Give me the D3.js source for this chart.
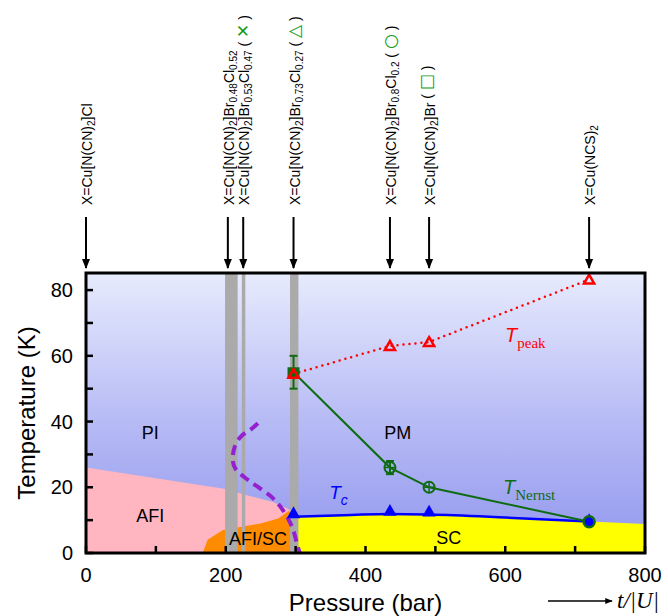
<!DOCTYPE html>
<html><head><meta charset="utf-8">
<script src="https://cdn.jsdelivr.net/npm/d3@7"></script>
<style>body{margin:0;background:#fff}svg{display:block}</style>
</head><body>
<svg id="c" width="668" height="616"></svg>
<script>
// ---------- data ----------
const xTicks = [0, 200, 400, 600, 800];
const xMinor = [0, 100, 200, 300, 400, 500, 600, 700, 800];
const yTicks = [0, 20, 40, 60, 80];
const yMinor = [0, 10, 20, 30, 40, 50, 60, 70, 80];

const compoundP = [0, 203, 225, 297, 435, 491, 720];
const compoundLabel = [
  [["X=Cu[N(CN)",0],["2",1],["]Cl",0]],
  [["X=Cu[N(CN)",0],["2",1],["]Br",0],["0.48",1],["Cl",0],["0.52",1]],
  [["X=Cu[N(CN)",0],["2",1],["]Br",0],["0.53",1],["Cl",0],["0.47",1]],
  [["X=Cu[N(CN)",0],["2",1],["]Br",0],["0.73",1],["Cl",0],["0.27",1]],
  [["X=Cu[N(CN)",0],["2",1],["]Br",0],["0.8",1],["Cl",0],["0.2",1]],
  [["X=Cu[N(CN)",0],["2",1],["]Br",0]],
  [["X=Cu(NCS)",0],["2",1]]
];
const compoundSymbol = ["", "", "✕", "△", "○", "□", ""];

const peakP = [297, 435, 491, 720];
const peakT = [54.5, 63, 64.2, 83.2];

const nernstP = [297, 435, 491, 720];
const nernstT = [55, 26, 20, 9.5];
const nernstErr = [5, 2, 0, 0];

const tcP = [297, 435, 491, 720];
const tcT = [11.8, 12.5, 12.3, 10.8];
const tcLineP = [297, 380, 435, 491, 600, 720];
const tcLineT = [11.0, 11.6, 11.9, 11.7, 10.8, 9.6];

const bandRanges = [[199, 217], [223, 228], [292, 304]];

const afiBoundary = [[0, 0], [0, 26], [200, 19.5], [230, 17.6], [268, 15.5], [289, 13.5], [300, 11.5], [300, 0]];
const afiscBoundary = [[167, 0], [174, 4], [196, 7], [250, 9], [275, 10.5], [290, 12.8], [298, 11.5], [298, 0]];
const scBoundary = [[298, 0], [298, 11.0], [380, 11.6], [435, 11.9], [491, 11.7], [600, 10.8], [720, 9.6], [800, 8.8], [800, 0]];

const dashP = [246, 236, 222, 213, 210, 214, 226, 244, 266, 282, 295, 303, 306];
const dashT = [39.5, 37.6, 35.5, 32.4, 28.3, 25.6, 23.2, 20.4, 17.0, 13.0, 7.9, 2.0, 0];

const regionLabels = [["PI", 92, 36.7], ["AFI", 92, 11.5], ["AFI/SC", 246, 4.2], ["PM", 446, 36.7], ["SC", 519, 4.7]];

// ---------- layout ----------
const svg = d3.select("#c");
const L = 86, R = 645, T = 273, B = 553;
const x = d3.scaleLinear().domain([0, 800]).range([L, R]);
const y = d3.scaleLinear().domain([0, 85.2]).range([B, T]);
const FONT = "'Liberation Sans', Arial, Helvetica, sans-serif";

const defs = svg.append("defs");
const grad = defs.append("linearGradient").attr("id", "bg").attr("x1", 0).attr("x2", 0).attr("y1", 0).attr("y2", 1);
grad.append("stop").attr("offset", "0%").attr("stop-color", "#e7ebfd");
grad.append("stop").attr("offset", "50%").attr("stop-color", "#b9bdf5");
grad.append("stop").attr("offset", "100%").attr("stop-color", "#9297ee");
defs.append("clipPath").attr("id", "clip").append("rect").attr("x", L).attr("y", T).attr("width", R - L).attr("height", B - T);
const mk = defs.append("marker").attr("id", "ah").attr("viewBox", "0 0 10 10").attr("refX", 9).attr("refY", 5)
  .attr("markerWidth", 5).attr("markerHeight", 5).attr("orient", "auto");
mk.append("path").attr("d", "M0,1 L10,5 L0,9 Z").attr("fill", "#000");

const plot = svg.append("g").attr("clip-path", "url(#clip)");
plot.append("rect").attr("x", L).attr("y", T).attr("width", R - L).attr("height", B - T).attr("fill", "url(#bg)");

const area = d3.line().x(d => x(d[0])).y(d => y(d[1]));
plot.append("path").attr("d", area(afiBoundary) + "Z").attr("fill", "#ffb6c1");
plot.append("path").attr("d", area(afiscBoundary) + "Z").attr("fill", "#ff8c00");
plot.append("path").attr("d", d3.line().x(d => x(d[0])).y(d => y(d[1])).curve(d3.curveMonotoneX)(scBoundary.slice(1, -1)) +
  "L" + x(800) + "," + y(0) + "L" + x(298) + "," + y(0) + "Z").attr("fill", "#ffff00");

// grey bands
plot.selectAll("rect.band").data(bandRanges).join("rect").attr("class", "band")
  .attr("x", d => x(d[0])).attr("width", d => x(d[1]) - x(d[0]))
  .attr("y", T).attr("height", B - T).attr("fill", "#aaaaaa");

// region labels
svg.selectAll("text.reg").data(regionLabels).join("text").attr("class", "reg")
  .attr("x", d => x(d[1])).attr("y", d => y(d[2])).attr("dy", "0.35em")
  .attr("text-anchor", "middle").attr("font-family", FONT).attr("font-size", 18).text(d => d[0]);

// purple dashed curve
plot.append("path").datum(dashP.map((p, i) => [p, dashT[i]]))
  .attr("d", d3.line().x(d => x(d[0])).y(d => y(d[1])).curve(d3.curveCatmullRom))
  .attr("fill", "none").attr("stroke", "#9420d0").attr("stroke-width", 4).attr("stroke-dasharray", "10,6");

// Tc line
plot.append("path").datum(tcLineP.map((p, i) => [p, tcLineT[i]]))
  .attr("d", d3.line().x(d => x(d[0])).y(d => y(d[1])).curve(d3.curveMonotoneX))
  .attr("fill", "none").attr("stroke", "#0000ff").attr("stroke-width", 2.5);

// Tpeak dotted line
plot.append("path").datum(peakP.map((p, i) => [p, peakT[i]]))
  .attr("d", d3.line().x(d => x(d[0])).y(d => y(d[1])))
  .attr("fill", "none").attr("stroke", "#ff0000").attr("stroke-width", 2.5)
  .attr("stroke-dasharray", "0,6").attr("stroke-linecap", "round");

// Nernst line
const GREEN = "#0f6b12";
plot.append("path").datum(nernstP.map((p, i) => [p, nernstT[i]]))
  .attr("d", d3.line().x(d => x(d[0])).y(d => y(d[1])))
  .attr("fill", "none").attr("stroke", GREEN).attr("stroke-width", 2);

// error bars
nernstP.forEach((p, i) => {
  if (!nernstErr[i]) return;
  const g = svg.append("g").attr("stroke", GREEN).attr("stroke-width", 2);
  g.append("line").attr("x1", x(p)).attr("x2", x(p)).attr("y1", y(nernstT[i] - nernstErr[i])).attr("y2", y(nernstT[i] + nernstErr[i]));
  [nernstT[i] - nernstErr[i], nernstT[i] + nernstErr[i]].forEach(v =>
    g.append("line").attr("x1", x(p) - 4).attr("x2", x(p) + 4).attr("y1", y(v)).attr("y2", y(v)));
});

// Tc triangles
const tri = d3.symbol().type(d3.symbolTriangle).size(80);
svg.selectAll("path.tc").data(tcP.map((p, i) => [p, tcT[i]])).join("path").attr("class", "tc")
  .attr("transform", (d, i) => `translate(${x(d[0])},${y(d[1])}) scale(${i === 3 ? 0.55 : 1})`)
  .attr("d", tri).attr("fill", "#0000ff");

// Nernst markers
nernstP.forEach((p, i) => {
  const cx = x(p), cy = y(nernstT[i]);
  if (i === 0) {
    svg.append("rect").attr("x", cx - 6).attr("y", cy - 5).attr("width", 12).attr("height", 10).attr("fill", GREEN);
  } else if (i === 3) {
    svg.append("circle").attr("cx", cx).attr("cy", cy).attr("r", 5.5).attr("fill", "#0000ff").attr("stroke", GREEN).attr("stroke-width", 2.5);
  } else {
    svg.append("circle").attr("cx", cx).attr("cy", cy).attr("r", 5.5).attr("fill", "none").attr("stroke", GREEN).attr("stroke-width", 2);
    svg.append("path").attr("d", `M${cx - 5},${cy}H${cx + 5}M${cx},${cy - 5}V${cy + 5}`).attr("stroke", GREEN).attr("stroke-width", 1.5);
  }
});

// Tpeak triangles (open)
svg.selectAll("path.pk").data(peakP.map((p, i) => [p, peakT[i]])).join("path").attr("class", "pk")
  .attr("transform", d => `translate(${x(d[0])},${y(d[1]) + 1})`)
  .attr("d", d3.symbol().type(d3.symbolTriangle).size(45)).attr("fill", "none")
  .attr("stroke", "#ff0000").attr("stroke-width", 2.5);

// curve labels
function sublabel(px, py, main, sub, color, subFont, mainSize, subSize) {
  const t = svg.append("text").attr("x", px).attr("y", py).attr("fill", color);
  t.append("tspan").attr("font-family", FONT).attr("font-style", "italic").attr("font-size", mainSize).text(main);
  t.append("tspan").attr("font-family", subFont).attr("font-style", subFont === FONT ? "italic" : "normal")
    .attr("font-size", subSize).attr("dy", 6).text(sub);
}
sublabel(x(348), y(16.5), "T", "c", "#0000ff", FONT, 19, 14);
sublabel(505, 342, "T", "peak", "#ff0000", "'Liberation Serif', 'Times New Roman', serif", 20, 15);
sublabel(503, 494, "T", "Nernst", GREEN, "'Liberation Serif', 'Times New Roman', serif", 20, 15);

// frame
svg.append("rect").attr("x", L).attr("y", T).attr("width", R - L).attr("height", B - T)
  .attr("fill", "none").attr("stroke", "#000").attr("stroke-width", 3);

// ticks (inward)
svg.selectAll("line.xt").data(xMinor).join("line").attr("class", "xt")
  .attr("x1", d => x(d)).attr("x2", d => x(d)).attr("y1", B).attr("y2", B - 7)
  .attr("stroke", "#000").attr("stroke-width", 2.5);
svg.selectAll("line.yt").data(yMinor).join("line").attr("class", "yt")
  .attr("x1", L).attr("x2", L + 7).attr("y1", d => y(d)).attr("y2", d => y(d))
  .attr("stroke", "#000").attr("stroke-width", 2.5);

svg.selectAll("text.xl").data(xTicks).join("text").attr("class", "xl")
  .attr("x", d => x(d)).attr("y", 582).attr("text-anchor", "middle")
  .attr("font-family", FONT).attr("font-size", 20).text(d => d);
svg.selectAll("text.yl").data(yTicks).join("text").attr("class", "yl")
  .attr("x", 73).attr("y", d => y(d)).attr("dy", "0.36em").attr("text-anchor", "end")
  .attr("font-family", FONT).attr("font-size", 20).text(d => d);

// axis titles
svg.append("text").attr("transform", `translate(35,${(T + B) / 2}) rotate(-90)`).attr("text-anchor", "middle")
  .attr("font-family", FONT).attr("font-size", 24).text("Temperature (K)");
svg.append("text").attr("x", (L + R) / 2 - 0).attr("y", 611).attr("text-anchor", "middle")
  .attr("font-family", FONT).attr("font-size", 24).text("Pressure (bar)");

// t/|U| arrow
svg.append("line").attr("x1", 548).attr("x2", 612).attr("y1", 601).attr("y2", 601)
  .attr("stroke", "#000").attr("stroke-width", 1.5).attr("marker-end", "url(#ah)");
svg.append("text").attr("x", 617).attr("y", 608).attr("font-family", "'Liberation Serif', 'Times New Roman', serif")
  .attr("font-style", "italic").attr("font-size", 23).text("t/|U|");

// compound labels + arrows
compoundP.forEach((p, i) => {
  const cx = x(p);
  svg.append("line").attr("x1", cx).attr("x2", cx).attr("y1", 217).attr("y2", 268)
    .attr("stroke", "#000").attr("stroke-width", 2).attr("marker-end", "url(#ah)");
  const t = svg.append("text").attr("transform", `translate(${cx + 6},205) rotate(-90)`)
    .attr("font-family", FONT).attr("font-size", 14);
  compoundLabel[i].forEach(seg => {
    if (seg[1]) {
      t.append("tspan").attr("font-size", 10).attr("dy", 3).text(seg[0]);
    } else {
      const ts = t.append("tspan").text(seg[0]);
      ts.attr("dy", -3);
    }
  });
  // reset first dy
  t.select("tspan").attr("dy", 0);
  if (compoundSymbol[i]) {
    t.append("tspan").attr("dy", -3).text(" ( ");
    t.append("tspan").attr("fill", "#119911").attr("font-family", "'DejaVu Sans', sans-serif")
      .attr("font-size", 17).attr("font-weight", "bold").text(compoundSymbol[i]);
    t.append("tspan").text(" )");
  }
});
</script>
</body></html>
